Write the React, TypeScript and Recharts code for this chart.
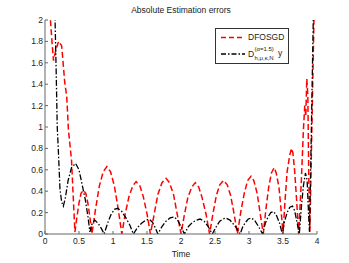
import React from 'react';
import { LineChart, Line, XAxis, YAxis } from 'recharts';

// DFOSGD (red dashed)
const RED_T = [
  0.06, 0.08, 0.1, 0.125, 0.16, 0.2, 0.245, 0.29, 0.32, 0.345, 0.39, 0.415, 0.44,
  0.47, 0.5, 0.53, 0.565, 0.6, 0.63, 0.66, 0.69,
  0.745, 0.8, 0.855, 0.91, 0.965, 1.02, 1.075, 1.13,
  1.18, 1.235, 1.29, 1.34, 1.395, 1.445, 1.5, 1.55,
  1.61, 1.66, 1.72, 1.78, 1.83, 1.89, 1.94, 2.0,
  2.05, 2.1, 2.16, 2.21, 2.26, 2.31, 2.37, 2.42,
  2.47, 2.52, 2.57, 2.625, 2.68, 2.73, 2.78, 2.83,
  2.88, 2.93, 2.98, 3.03, 3.07, 3.12, 3.16, 3.21,
  3.25, 3.29, 3.33, 3.37, 3.4, 3.44, 3.47, 3.5,
  3.53, 3.56, 3.6, 3.625, 3.645, 3.67, 3.7, 3.73,
  3.77, 3.8, 3.82, 3.835, 3.85, 3.865, 3.88, 3.895, 3.925, 3.955, 3.97,
];
const RED_V = [
  2.25, 2.0, 1.82, 1.62, 1.72, 1.8, 1.76, 1.42, 1.28, 0.97, 0.69, 0.35, 0.02,
  0.16, 0.29, 0.38, 0.41, 0.38, 0.29, 0.16, 0.0,
  0.24, 0.45, 0.58, 0.63, 0.58, 0.45, 0.24, 0.0,
  0.19, 0.35, 0.45, 0.49, 0.45, 0.35, 0.19, 0.0,
  0.2, 0.37, 0.48, 0.52, 0.48, 0.37, 0.2, 0.0,
  0.18, 0.34, 0.44, 0.48, 0.44, 0.34, 0.18, 0.0,
  0.19, 0.36, 0.46, 0.5, 0.46, 0.36, 0.19, 0.0,
  0.21, 0.38, 0.5, 0.54, 0.5, 0.38, 0.21, 0.0,
  0.24, 0.44, 0.57, 0.62, 0.57, 0.44, 0.24, 0.0,
  0.31, 0.58, 0.74, 0.8, 0.76, 0.6, 0.32, 0.0,
  0.5, 0.97, 1.2, 1.1, 1.45, 1.3, 0.5, 0.02, 1.0, 2.0, 2.3,
];

// D^(alpha=1.5) y (black dash-dot)
const BLACK_T = [
  0.14, 0.148, 0.165, 0.18, 0.195, 0.22, 0.245, 0.27, 0.3, 0.34, 0.39, 0.45, 0.5, 0.55, 0.59, 0.63, 0.66,
  0.69, 0.73, 0.78, 0.83, 0.87,
  0.92, 0.97, 1.02, 1.07, 1.13, 1.19, 1.25, 1.3,
  1.36, 1.42, 1.48, 1.53, 1.58, 1.62, 1.66,
  1.72, 1.78, 1.84, 1.9, 1.95, 2.0, 2.05,
  2.11, 2.17, 2.23, 2.28, 2.34, 2.4, 2.46,
  2.52, 2.57, 2.62, 2.66, 2.72, 2.8, 2.87,
  2.91, 2.95, 2.99, 3.03, 3.08, 3.14, 3.2,
  3.24, 3.28, 3.32, 3.36, 3.4, 3.45, 3.49,
  3.52, 3.56, 3.6, 3.64, 3.67, 3.7, 3.74,
  3.77, 3.8, 3.83, 3.855, 3.875, 3.89, 3.915, 3.945, 3.955,
];
const BLACK_V = [
  2.3, 2.0, 1.5, 1.0, 0.8, 0.42, 0.3, 0.26, 0.34, 0.5, 0.62, 0.66, 0.6, 0.45, 0.33, 0.17, 0.02,
  0.09, 0.13, 0.1, 0.05, 0.0,
  0.1, 0.18, 0.23, 0.24, 0.21, 0.15, 0.08, 0.0,
  0.06, 0.1, 0.13, 0.14, 0.11, 0.06, 0.0,
  0.07, 0.12, 0.15, 0.16, 0.13, 0.07, 0.0,
  0.07, 0.11, 0.13, 0.14, 0.12, 0.07, 0.0,
  0.07, 0.12, 0.14, 0.15, 0.13, 0.07, 0.0,
  0.07, 0.11, 0.14, 0.15, 0.13, 0.07, 0.0,
  0.1, 0.16, 0.2, 0.21, 0.18, 0.1, 0.0,
  0.11, 0.2, 0.25, 0.26, 0.22, 0.13, 0.0,
  0.25, 0.45, 0.57, 0.5, 0.2, 0.02, 0.9, 2.0, 2.3,
];

const X_TICKS = [0, 0.5, 1, 1.5, 2, 2.5, 3, 3.5, 4];
const Y_TICKS = [0, 0.2, 0.4, 0.6, 0.8, 1, 1.2, 1.4, 1.6, 1.8, 2];

const redData = RED_T.map((t, i) => ({ t, v: RED_V[i] }));
const blackData = BLACK_T.map((t, i) => ({ t, v: BLACK_V[i] }));

const FONT = '"Liberation Sans", Arial, sans-serif';
const RED_DASH = '6 3';
const BLACK_DASH = '6 2 1.5 2';

// legend box drawn as an overlay so it doesn't eat into the plot area
const LegendBox = () => (
  <div
    style={{
      position: 'absolute',
      left: 215,
      top: 28,
      border: '1px solid #333',
      background: '#fff',
      width: 74,
      height: 36,
      boxSizing: 'border-box',
      fontFamily: FONT,
      fontSize: 8.5,
      color: '#222',
    }}
  >
    <svg width={26} height={34} style={{ position: 'absolute', left: 4, top: 0 }}>
      <line x1={1} y1={8.5} x2={25} y2={8.5} stroke="#ff0000" strokeWidth={1.5} strokeDasharray="5 3" />
      <line x1={1} y1={25} x2={25} y2={25} stroke="#000" strokeWidth={1.3} strokeDasharray="5 2 1.5 2" />
    </svg>
    <div style={{ position: 'absolute', left: 32, top: 3, lineHeight: '10px' }}>DFOSGD</div>
    <div style={{ position: 'absolute', left: 32, top: 16, lineHeight: '10px', whiteSpace: 'nowrap' }}>
      <span style={{ position: 'relative', top: 4 }}>D</span>
      <span style={{ position: 'absolute', left: 6.5, top: -1.5, fontSize: 6 }}>(α=1.5)</span>
      <span style={{ position: 'absolute', left: 6.5, top: 8, fontSize: 6 }}>h,μ,κ,N</span>
      <span style={{ position: 'absolute', left: 30, top: 3 }}>y</span>
    </div>
  </div>
);

const App: React.FC = () => {
  return (
    <div style={{ position: 'absolute', left: 0, top: 0, width: 349, height: 263, background: '#fff' }}>
      <div
        style={{
          position: 'absolute',
          left: 45,
          width: 272,
          top: 5,
          textAlign: 'center',
          fontFamily: FONT,
          fontSize: 8.5,
          color: '#222',
        }}
      >
        Absolute Estimation errors
      </div>
      <LineChart width={349} height={263} margin={{ top: 20, right: 32, bottom: 0, left: 0 }}>
        <XAxis
          type="number"
          dataKey="t"
          domain={[0, 4]}
          ticks={X_TICKS}
          allowDataOverflow
          height={29}
          stroke="#666"
          tickSize={-3}
          tickMargin={7}
          tick={{ fontSize: 8.5, fill: '#222', fontFamily: FONT }}
          label={{ value: 'Time', position: 'insideBottom', offset: 6, fontSize: 8.5, fill: '#222', fontFamily: FONT }}
        />
        <YAxis
          type="number"
          domain={[0, 2]}
          ticks={Y_TICKS}
          allowDataOverflow
          width={45}
          stroke="#666"
          tickSize={-3}
          tickMargin={5}
          tick={{ fontSize: 8.5, fill: '#222', fontFamily: FONT }}
        />
        <Line
          data={redData}
          dataKey="v"
          type="linear"
          stroke="#ff0000"
          strokeWidth={1.5}
          strokeDasharray={RED_DASH}
          dot={false}
          isAnimationActive={false}
        />
        <Line
          data={blackData}
          dataKey="v"
          type="linear"
          stroke="#000"
          strokeWidth={1.3}
          strokeDasharray={BLACK_DASH}
          dot={false}
          isAnimationActive={false}
        />
      </LineChart>
      <LegendBox />
    </div>
  );
};

export default App;
